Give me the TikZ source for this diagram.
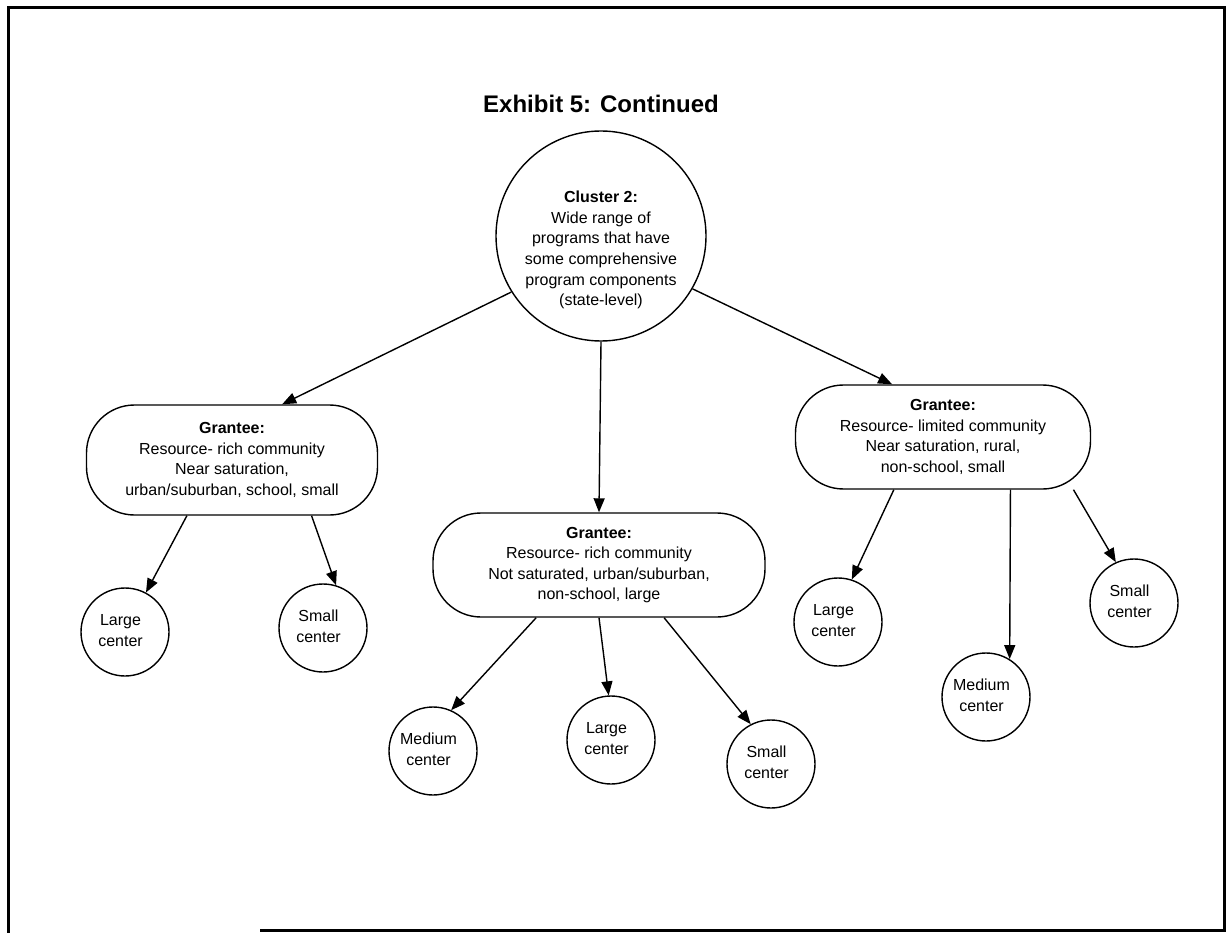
\documentclass[tikz,border=0pt]{standalone}
\usepackage{fontspec}
\setmainfont{Liberation Sans}
\usetikzlibrary{arrows.meta}
\newcommand{\ctrtxt}[2]{\raisebox{5pt}{\begin{tabular}{@{}c@{}}#1\\#2\end{tabular}}\hspace{9pt}}
\begin{document}
\begin{tikzpicture}[x=1pt,y=-1pt,
  txt/.style={font=\fontsize{16}{20.6}\selectfont, align=center},
  grbox/.style={draw, line width=1.4pt, rounded corners=48pt, inner sep=0pt, txt},
  cen/.style={draw, circle, line width=1.4pt, minimum size=88pt, inner sep=0pt, txt},
  arr/.style={line width=1.4pt, -{Triangle[length=14pt,width=11pt]}},
  frame/.style={line width=3pt}
]
\useasboundingbox (0,0) rectangle (1232,933);
% frame
\draw[frame] (260,930) -- (1224,930) -- (1224,8) -- (8,8) -- (8,933);
% title
\node[font=\fontsize{24}{28}\selectfont\bfseries] (title) at (601,104) {Exhibit 5: Continued};
% cluster
\node[draw, circle, line width=1.4pt, minimum size=210pt, inner sep=0pt] (cl) at (601,236) {};
\node[txt] (cltx) at (601,250) {\textbf{Cluster 2:}\\Wide range of\\programs that have\\some comprehensive\\program components\\(state-level)};
% grantees
\node[grbox, minimum width=291pt, minimum height=110pt] (lg) at (232,460)
  {\textbf{Grantee:}\\Resource- rich community\\Near saturation,\\urban/suburban, school, small};
\node[grbox, minimum width=332pt, minimum height=104pt] (mg) at (599,565)
  {\textbf{Grantee:}\\Resource- rich community\\Not saturated, urban/suburban,\\non-school, large};
\node[grbox, minimum width=295pt, minimum height=104pt] (rg) at (943,437)
  {\textbf{Grantee:}\\Resource- limited community\\Near saturation, rural,\\non-school, small};
% centers
\node[cen] (l1) at (125,632) {\ctrtxt{Large}{center}};
\node[cen] (l2) at (323,628) {\ctrtxt{Small}{center}};
\node[cen] (m1) at (433,751) {\ctrtxt{Medium}{center}};
\node[cen] (m2) at (611,740) {\ctrtxt{Large}{center}};
\node[cen] (m3) at (771,764) {\ctrtxt{Small}{center}};
\node[cen] (r1) at (838,622) {\ctrtxt{Large}{center}};
\node[cen] (r2) at (986,697) {\ctrtxt{Medium}{center}};
\node[cen] (r3) at (1134,603) {\ctrtxt{Small}{center}};
% arrows
\draw[arr] (cl.212) -- (lg.48);
\draw[arr] (cl.south) -- (mg.north);
\draw[arr] (cl.330) -- (rg.134);
\draw[arr] (lg.231) -- (l1.62);
\draw[arr] (lg.325) -- (l2.73);
\draw[arr] (mg.220) -- (m1.66);
\draw[arr] (mg.270) -- (m2.93);
\draw[arr] (mg.321) -- (m3.117);
\draw[arr] (rg.227) -- (r1.72);
\draw[arr] (rg.322) -- (r2.58);
\draw[arr] (rg.338) -- (r3.114);
\end{tikzpicture}
\end{document}
